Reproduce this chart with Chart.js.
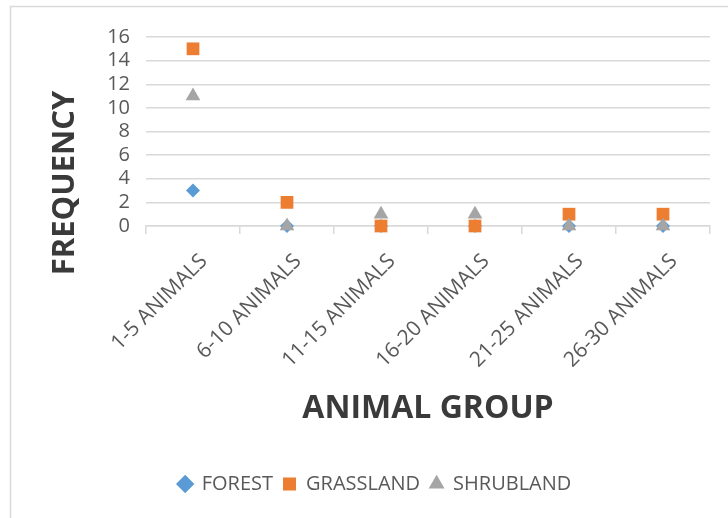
<!DOCTYPE html>
<html>
<head>
<meta charset="utf-8">
<script src="https://cdn.jsdelivr.net/npm/chart.js@4.4.1/dist/chart.umd.min.js"></script>
<style>
  html, body { margin: 0; padding: 0; background: #ffffff; }
  #wrap { position: relative; width: 728px; height: 518px; }
  canvas { display: block; }
</style>
</head>
<body>
<div id="wrap"><canvas id="chart" width="728" height="518"></canvas></div>
<script>
// Animal group size classes and how often each occurred per habitat
const groups = ['1-5 ANIMALS', '6-10 ANIMALS', '11-15 ANIMALS', '16-20 ANIMALS', '21-25 ANIMALS', '26-30 ANIMALS'];
const forest = [3, 0, 0, 0, 0, 0];
const grassland = [15, 2, 0, 0, 1, 1];
const shrubland = [11, 0, 1, 1, 0, 0];
const yTicks = [0, 2, 4, 6, 8, 10, 12, 14, 16];

const FONT = "'Open Sans', 'DejaVu Sans', sans-serif";
const TEXT = '#595959';
const TITLE = '#3a3a3a';
const GRID = '#d9d9d9';

// Light frame around the chart, rotated y-axis title, legend nudged right
const framePlugin = {
  id: 'frame',
  afterLayout(chart) {
    const lg = chart.legend;
    if (lg) { lg.left += 20; lg.right += 20; }
  },
  beforeDraw(chart) {
    const ctx = chart.ctx;
    ctx.save();
    ctx.fillStyle = '#ffffff';
    ctx.fillRect(0, 0, chart.width, chart.height);
    ctx.strokeStyle = GRID;
    ctx.lineWidth = 1.5;
    ctx.beginPath();
    ctx.moveTo(10.5, chart.height);
    ctx.lineTo(10.5, 6.5);
    ctx.lineTo(chart.width, 6.5);
    ctx.stroke();
    ctx.restore();
  },
  afterDraw(chart) {
    const ctx = chart.ctx;
    ctx.save();
    ctx.translate(65, 183);
    ctx.rotate(-Math.PI / 2);
    ctx.font = "bold 31px " + FONT;
    ctx.fillStyle = TITLE;
    ctx.textAlign = 'center';
    ctx.textBaseline = 'middle';
    ctx.fillText('FREQUENCY', 0, 0);
    ctx.restore();
  }
};

// Later series are painted over earlier ones (higher order = drawn first)
const ds = (label, data, color, style, radius, order) => ({
  label, data, order,
  showLine: false,
  clip: false,
  backgroundColor: color,
  borderColor: color,
  pointBackgroundColor: color,
  pointBorderColor: color,
  pointBorderWidth: 0,
  pointStyle: style,
  pointRadius: radius,
  pointHoverRadius: radius
});

new Chart(document.getElementById('chart'), {
  type: 'line',
  data: {
    labels: groups,
    datasets: [
      ds('FOREST', forest, '#5b9bd5', 'rectRot', 7, 3),
      ds('GRASSLAND', grassland, '#ed7d31', 'rect', 9, 2),
      ds('SHRUBLAND', shrubland, '#a5a5a5', 'triangle', 8.5, 1)
    ]
  },
  options: {
    responsive: false,
    animation: false,
    events: [],
    layout: { padding: { left: 0, right: 18, top: 37, bottom: 14 } },
    plugins: {
      tooltip: { enabled: false },
      legend: {
        position: 'bottom',
        labels: {
          usePointStyle: true,
          boxWidth: 13,
          boxHeight: 13,
          padding: 10,
          color: TEXT,
          font: { family: FONT, size: 20 },
          sort: (a, b) => a.datasetIndex - b.datasetIndex
        }
      }
    },
    scales: {
      x: {
        offset: true,
        grid: { offset: true, drawOnChartArea: false, drawTicks: true, tickLength: 8, color: GRID, lineWidth: 1.5 },
        border: { display: true, color: GRID, width: 1.5 },
        ticks: {
          color: TEXT,
          font: { family: FONT, size: 21 },
          minRotation: 45,
          maxRotation: 45,
          autoSkip: false,
          labelOffset: 11,
          padding: 15
        },
        title: {
          display: true,
          text: 'ANIMAL GROUP',
          color: TITLE,
          font: { family: FONT, size: 32, weight: 'bold' },
          padding: { top: 0, bottom: 36 }
        },
        afterFit(scale) { scale.height = 238; }
      },
      y: {
        min: 0,
        max: 16,
        afterBuildTicks(scale) { scale.ticks = yTicks.map(v => ({ value: v })); },
        grid: { drawTicks: false, color: GRID, lineWidth: 1.5 },
        border: { display: false },
        ticks: {
          color: TEXT,
          font: { family: FONT, size: 20 },
          autoSkip: false,
          padding: 16
        },
        afterFit(scale) { scale.width = 146; }
      }
    }
  },
  plugins: [framePlugin]
});
</script>
</body>
</html>
